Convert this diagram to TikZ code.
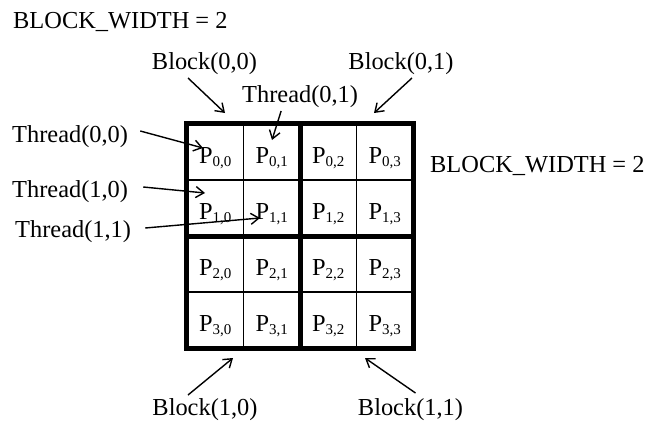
\documentclass[tikz,border=0pt]{standalone}
\usepackage{fontspec}
\setmainfont{Liberation Serif}
\usetikzlibrary{arrows.meta,positioning}

\begin{document}
\begin{tikzpicture}[x=1pt,y=-1pt,
  etiqueta/.style={font=\fontsize{24.4}{29}\selectfont, inner sep=0pt},
  celda/.style={draw, line width=1.3pt, minimum width=56.5pt, minimum height=56pt,
    inner sep=0pt, text height=38pt, text depth=16pt, font=\fontsize{24.4}{29}\selectfont},
  borde/.style={line width=4.5pt},
  flecha/.style={line width=1.4pt, -{Straight Barb[length=8pt,width=11pt]}}]
\useasboundingbox (0,0) rectangle (650,420);

% Matriz de 4x4 elementos P_{r,c}
\foreach \r in {0,...,3}{
  \foreach \c in {0,...,3}{
    \node[celda] (p\r\c) at (215.25+56.5*\c, 152+56*\r)
      {P\raisebox{-3pt}{\fontsize{15}{15}\selectfont\r,\c}};
  }
}

% Bordes gruesos de los bloques
\draw[borde] (p00.north west) rectangle (p33.south east);
\draw[borde] (p01.north east) -- (p31.south east);
\draw[borde] (p10.south west) -- (p13.south east);

% Etiquetas
\node[etiqueta, anchor=base west] (anchoSup) at (13,29) {BLOCK\_WIDTH = 2};
\node[etiqueta, anchor=base west] (anchoDer) at (430,172) {BLOCK\_WIDTH = 2};
\node[etiqueta, anchor=base] (b00) at (204.5,70) {Block(0,0)};
\node[etiqueta, anchor=base] (b01) at (401,70) {Block(0,1)};
\node[etiqueta, anchor=base] (b10) at (205,415) {Block(1,0)};
\node[etiqueta, anchor=base] (b11) at (410.5,415) {Block(1,1)};
\node[etiqueta, anchor=base west] (t01) at (242,102) {Thread(0,1)};
\node[etiqueta, anchor=base west] (t00) at (12,142) {Thread(0,0)};
\node[etiqueta, anchor=base west] (t10) at (12,197) {Thread(1,0)};
\node[etiqueta, anchor=base west] (t11) at (15,237) {Thread(1,1)};

% Puntas de las flechas
\coordinate (fb00) at (225,113);
\coordinate (fb01) at (374,113);
\coordinate (ft01) at (272,140);
\coordinate (ft00) at (203,148);
\coordinate (ft10) at (205,193);
\coordinate (ft11) at (260,218);
\coordinate (fb10) at (233,358);
\coordinate (fb11) at (365,358);

% Flechas
\draw[flecha] ([xshift=-16.5pt,yshift=-8pt]b00.base) -- (fb00);
\draw[flecha] ([xshift=11pt,yshift=-8pt]b01.base) -- (fb01);
\draw[flecha] ([xshift=-19pt,yshift=-9pt]t01.base) -- (ft01);
\draw[flecha] ([xshift=12pt,yshift=11pt]t00.base east) -- (ft00);
\draw[flecha] ([xshift=15pt,yshift=10pt]t10.base east) -- (ft10);
\draw[flecha] ([xshift=14pt,yshift=9pt]t11.base east) -- (ft11);
\draw[flecha] ([xshift=-17pt,yshift=20pt]b10.base) -- (fb10);
\draw[flecha] ([xshift=5pt,yshift=22pt]b11.base) -- (fb11);
\end{tikzpicture}
\end{document}
